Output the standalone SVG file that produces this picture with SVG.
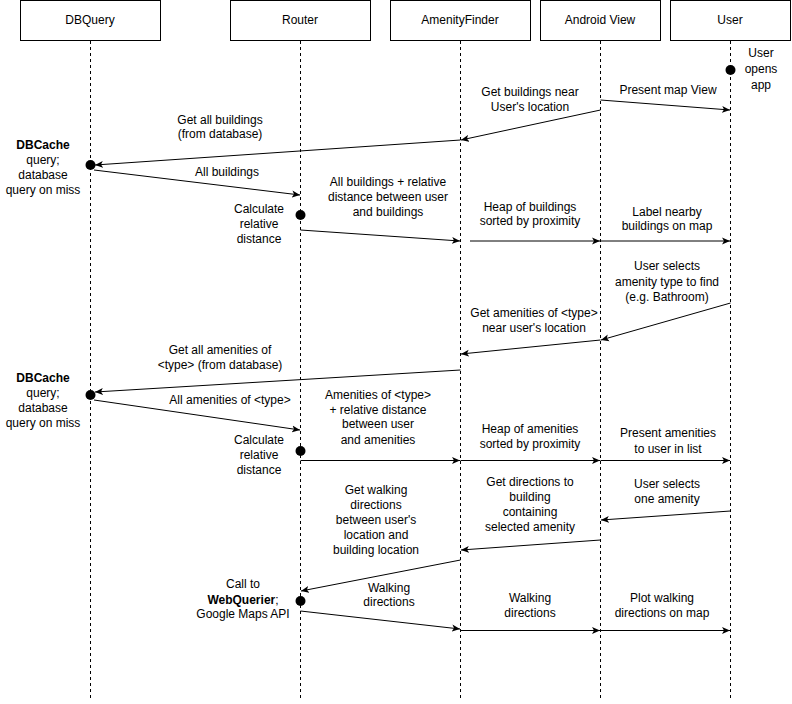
<svg xmlns="http://www.w3.org/2000/svg" width="792" height="704" viewBox="0 0 792 704">
<style>
text{font-family:"Liberation Sans",Arial,Helvetica,sans-serif;font-size:12px;fill:#000;text-anchor:middle}
.b{font-weight:bold}
.box{fill:#fff;stroke:#000;stroke-width:1}
.life{stroke:#000;stroke-width:1;stroke-dasharray:3,3;fill:none}
.msg{stroke:#000;stroke-width:1;fill:none;marker-end:url(#arr)}
.dot{fill:#000}
</style>
<defs>
<marker id="arr" viewBox="0 0 8 8" refX="8" refY="4" markerWidth="8" markerHeight="8" markerUnits="userSpaceOnUse" orient="auto">
<path d="M0,0.5 L8,4 L0,7.5 L2,4 z" fill="#000"/>
</marker>
</defs>
<rect width="792" height="704" fill="#fff"/>

<g id="DBQuery">
<rect class="box" x="20.5" y="0.5" width="140" height="40"/>
<text x="90" y="24">DBQuery</text>
<line class="life" x1="90.5" y1="41" x2="90.5" y2="700"/>
</g>
<g id="Router">
<rect class="box" x="230.5" y="0.5" width="140" height="40"/>
<text x="300" y="24">Router</text>
<line class="life" x1="300.5" y1="41" x2="300.5" y2="700"/>
</g>
<g id="AmenityFinder">
<rect class="box" x="390.5" y="0.5" width="140" height="40"/>
<text x="460" y="24">AmenityFinder</text>
<line class="life" x1="460.5" y1="41" x2="460.5" y2="700"/>
</g>
<g id="AndroidView">
<rect class="box" x="540.5" y="0.5" width="120" height="40"/>
<text x="600" y="24">Android View</text>
<line class="life" x1="600.5" y1="41" x2="600.5" y2="700"/>
</g>
<g id="User">
<rect class="box" x="670.5" y="0.5" width="120" height="40"/>
<text x="730" y="24">User</text>
<line class="life" x1="730.5" y1="41" x2="730.5" y2="700"/>
</g>

<g id="activations">
<circle class="dot" cx="730.5" cy="70" r="5"/>
<circle class="dot" cx="90.5" cy="165" r="5"/>
<circle class="dot" cx="300.5" cy="215" r="5"/>
<circle class="dot" cx="90.5" cy="395" r="5"/>
<circle class="dot" cx="300.5" cy="451" r="5"/>
<circle class="dot" cx="300.5" cy="601" r="5"/>
</g>

<g id="connectors">
<line class="msg" x1="600.5" y1="100" x2="730" y2="110"/>
<line class="msg" x1="600.5" y1="110" x2="461" y2="140"/>
<line class="msg" x1="460.5" y1="140" x2="95" y2="165"/>
<line class="msg" x1="94" y1="170" x2="300" y2="195"/>
<line class="msg" x1="300.5" y1="230" x2="460" y2="241"/>
<line class="msg" x1="470" y1="241" x2="600" y2="241"/>
<line class="msg" x1="600.5" y1="241" x2="730" y2="241"/>
<line class="msg" x1="730.5" y1="303" x2="601" y2="340"/>
<line class="msg" x1="600.5" y1="340" x2="461" y2="354"/>
<line class="msg" x1="460.5" y1="370" x2="95" y2="392"/>
<line class="msg" x1="94" y1="400" x2="300" y2="430"/>
<line class="msg" x1="300.5" y1="460.5" x2="460" y2="460.5"/>
<line class="msg" x1="460.5" y1="460.5" x2="600" y2="460.5"/>
<line class="msg" x1="600.5" y1="460.5" x2="730" y2="460.5"/>
<line class="msg" x1="730.5" y1="511" x2="601" y2="520"/>
<line class="msg" x1="600.5" y1="540" x2="461" y2="550"/>
<line class="msg" x1="460.5" y1="560" x2="301" y2="591"/>
<line class="msg" x1="300.5" y1="611" x2="460" y2="629"/>
<line class="msg" x1="460.5" y1="630.5" x2="600" y2="630.5"/>
<line class="msg" x1="600.5" y1="630.5" x2="730" y2="630.5"/>
</g>

<g id="labels">
<text x="761" y="57">User</text>
<text x="761" y="73">opens</text>
<text x="761" y="89">app</text>

<text x="668" y="94">Present map View</text>
<text x="530" y="96">Get buildings near</text>
<text x="530" y="111">User's location</text>
<text x="220" y="124">Get all buildings</text>
<text x="220" y="138">(from database)</text>

<text class="b" x="43" y="149">DBCache</text>
<text x="43" y="164">query;</text>
<text x="43" y="179">database</text>
<text x="43" y="194">query on miss</text>

<text x="227" y="176">All buildings</text>
<text x="388" y="186">All buildings + relative</text>
<text x="388" y="201">distance between user</text>
<text x="388" y="216">and buildings</text>

<text x="259" y="213">Calculate</text>
<text x="259" y="228">relative</text>
<text x="259" y="243">distance</text>

<text x="530" y="211">Heap of buildings</text>
<text x="530" y="225">sorted by proximity</text>
<text x="667" y="216">Label nearby</text>
<text x="667" y="230">buildings on map</text>

<text x="667" y="270">User selects</text>
<text x="667" y="286">amenity type to find</text>
<text x="667" y="301">(e.g. Bathroom)</text>

<text x="534" y="317">Get amenities of &lt;type&gt;</text>
<text x="534" y="332">near user's location</text>

<text x="220" y="354">Get all amenities of</text>
<text x="220" y="369">&lt;type&gt; (from database)</text>

<text class="b" x="43" y="382">DBCache</text>
<text x="43" y="397">query;</text>
<text x="43" y="412">database</text>
<text x="43" y="427">query on miss</text>

<text x="230" y="404">All amenities of &lt;type&gt;</text>

<text x="378" y="399">Amenities of &lt;type&gt;</text>
<text x="378" y="414">+ relative distance</text>
<text x="378" y="428">between user</text>
<text x="378" y="444">and amenities</text>

<text x="259" y="444">Calculate</text>
<text x="259" y="459">relative</text>
<text x="259" y="474">distance</text>

<text x="530" y="433">Heap of amenities</text>
<text x="530" y="448">sorted by proximity</text>
<text x="668" y="437">Present amenities</text>
<text x="668" y="453">to user in list</text>

<text x="376" y="494">Get walking</text>
<text x="376" y="509">directions</text>
<text x="376" y="524">between user's</text>
<text x="376" y="539">location and</text>
<text x="376" y="554">building location</text>

<text x="530" y="486">Get directions to</text>
<text x="530" y="501">building</text>
<text x="530" y="516">containing</text>
<text x="530" y="531">selected amenity</text>

<text x="667" y="488">User selects</text>
<text x="667" y="503">one amenity</text>

<text x="243" y="588">Call to</text>
<text x="243" y="604"><tspan class="b">WebQuerier</tspan>;</text>
<text x="243" y="618">Google Maps API</text>

<text x="389" y="592">Walking</text>
<text x="389" y="606">directions</text>
<text x="530" y="602">Walking</text>
<text x="530" y="617">directions</text>
<text x="662" y="602">Plot walking</text>
<text x="662" y="617">directions on map</text>
</g>
</svg>
